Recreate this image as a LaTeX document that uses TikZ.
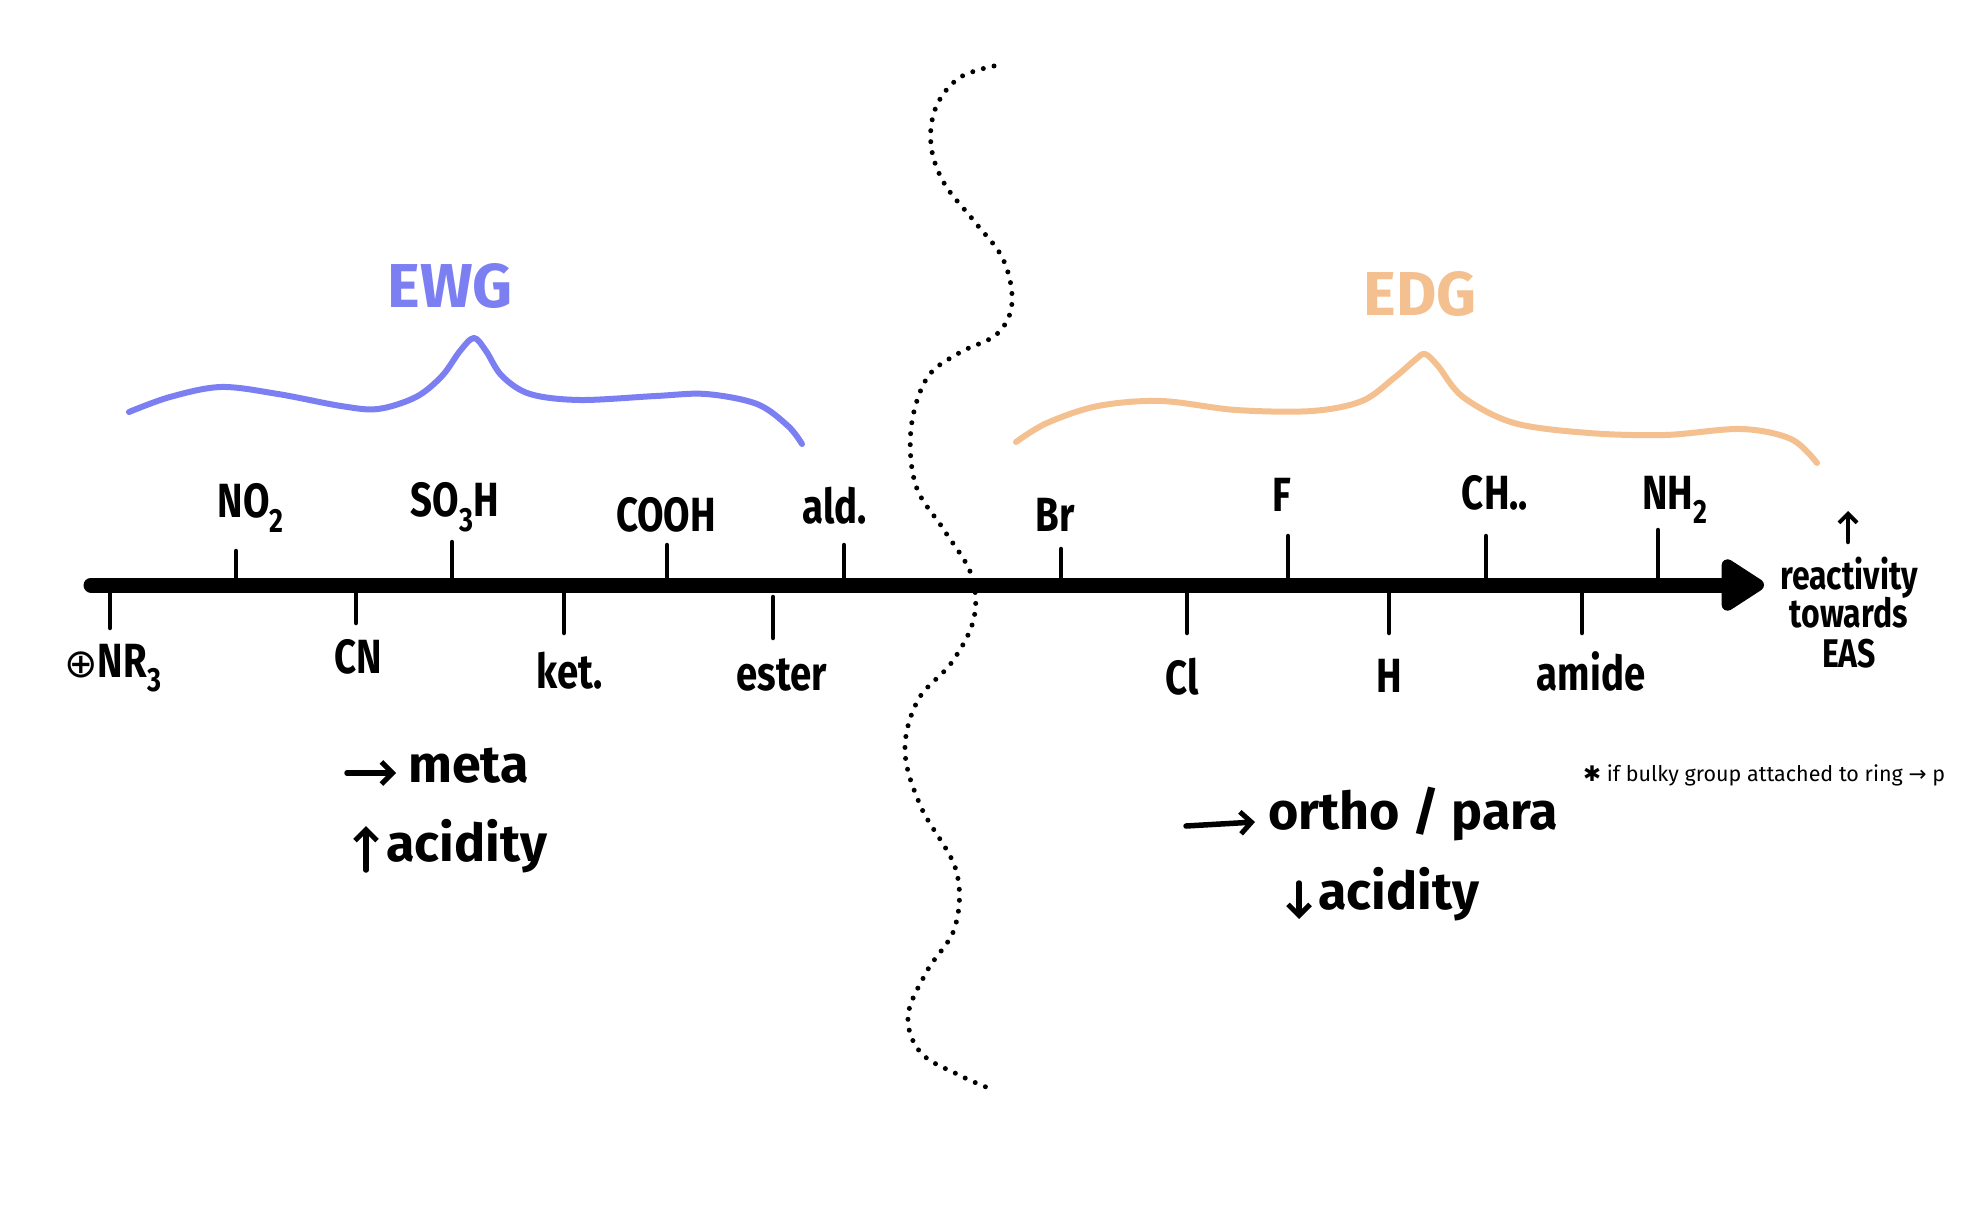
\documentclass[tikz,border=0pt]{standalone}
\usepackage{fontspec}
\setmainfont{Fira Sans}
\newfontfamily\hand{Fira Sans}[FakeStretch=0.8]
\newfontfamily\djv{DejaVu Sans}
\usetikzlibrary{arrows.meta}
\definecolor{ewgc}{HTML}{7C7FF2}
\definecolor{edgc}{HTML}{F4C08F}
\begin{document}
\begin{tikzpicture}[x=1pt,y=-1pt,
  tickmark/.style={line width=4.5pt,line cap=round},
  axlbl/.style={font=\hand\bfseries\fontsize{48}{52}\selectfont,inner sep=0pt},
  smalllbl/.style={font=\hand\bfseries\fontsize{40}{40}\selectfont,inner sep=0pt,align=center},
  biglbl/.style={font=\bfseries\fontsize{52}{56}\selectfont,inner sep=0pt},
  titlelbl/.style={font=\bfseries\fontsize{62}{66}\selectfont,inner sep=0pt},
  notelbl/.style={font=\fontsize{21.5}{24}\selectfont,inner sep=0pt},
  brace/.style={line width=6pt,line cap=round,line join=round},
  handarrow/.style={line width=5.5pt,line cap=round,-{Straight Barb[length=11pt,width=22pt,line width=5pt]}},
  dotline/.style={line width=5pt,line cap=round,dash pattern=on 0pt off 11pt}
]
\useasboundingbox (0,0) rectangle (1978,1214);

% wavy dotted divider
\draw[dotline] plot[smooth,tension=0.6] coordinates{
 (994,66) (959,78) (936,107) (931,145) (944,183) (974,221) (1003,259) (1012,303)
 (997,334) (959,353) (927,378) (911,429) (916,486) (944,530) (971,574) (974,618)
 (952,662) (918,700) (905,751) (921,807) (956,870) (955,927) (927,971) (908,1016)
 (921,1053) (959,1075) (986,1087)};

% main axis
\coordinate (axs) at (91,585);
\coordinate (axe) at (1764,585);
\draw[line width=15pt,line cap=round,-{Triangle[length=48pt,width=58pt,round]}] (axs) -- (axe);

% ticks above
\foreach \n/\x/\t in {no/236/551, so/452/542, cooh/667/545, ald/844/545, br/1061/549, f/1288/536, ch/1486/536, nh/1658/530}{
  \coordinate (\n a) at (\x,585);
  \coordinate (\n b) at (\x,\t);
  \draw[tickmark] (\n a) -- (\n b);
}
% ticks below
\foreach \n/\x/\s/\e in {nr/110/590/628, cn/356/590/623, ket/564/590/633, est/773/597/638, cl/1187/590/633, h/1389/590/633, am/1582/590/633}{
  \coordinate (\n a) at (\x,\s);
  \coordinate (\n b) at (\x,\e);
  \draw[tickmark] (\n a) -- (\n b);
}

% labels above
\node[axlbl] (lno) at (251,508) {NO\textsubscript{2}};
\node[axlbl] (lso) at (455,507) {SO\textsubscript{3}H};
\node[axlbl] (lcooh) at (666,515) {COOH};
\node[axlbl] (lald) at (835,506) {ald.};
\node[axlbl] (lbr) at (1055,515) {Br};
\node[axlbl] (lf) at (1282,495) {F};
\node[axlbl] (lch) at (1495,493) {CH..};
\node[axlbl] (lnh) at (1675,500) {NH\textsubscript{2}};
% labels below
\node[axlbl] (lnr) at (113,668) {{\djv\mdseries\fontsize{40}{40}\selectfont ⊕}NR\textsubscript{3}};
\node[axlbl] (lcn) at (358,657) {CN};
\node[axlbl] (lket) at (570,671) {ket.};
\node[axlbl] (lest) at (782,675) {ester};
\node[axlbl] (lcl) at (1182,677) {Cl};
\node[axlbl] (lh) at (1389,676) {H};
\node[axlbl] (lam) at (1591,671) {amide};

% reactivity label
\coordinate (upa) at (1848,542);
\coordinate (upb) at (1848,511);
\draw[line width=4.5pt,line cap=round,-{Straight Barb[length=9pt,width=18pt,line width=4pt]}] (upa) -- (upb);
\node[smalllbl] (lreact) at (1849,613) {reactivity\\[-2pt]towards\\EAS};

% EWG side
\node[titlelbl,text=ewgc] (lewg) at (450,286) {EWG};
\draw[brace,ewgc] plot[smooth,tension=0.55] coordinates{
 (129,412) (170,397) (221,387) (278,394) (341,406) (378,409) (416,397) (442,376)
 (460,351) (474,338) (486,351) (502,376) (530,394) (580,400) (656,396) (706,394)
 (757,404) (788,426) (802,444)};
\coordinate (ma) at (347,773);
\coordinate (mb) at (396,773);
\draw[handarrow] (ma) -- (mb);
\node[biglbl,anchor=west] (lmeta) at (408,766) {meta};
\coordinate (aca) at (366,870);
\coordinate (acb) at (366,826);
\draw[handarrow] (aca) -- (acb);
\node[biglbl,anchor=west] (lacid1) at (386,846) {acidity};

% EDG side
\node[titlelbl,text=edgc] (ledg) at (1420,294) {EDG};
\draw[brace,edgc] plot[smooth,tension=0.55] coordinates{
 (1016,442) (1047,423) (1098,406) (1161,401) (1236,410) (1312,411) (1362,401)
 (1394,378) (1415,360) (1425,354) (1438,366) (1463,397) (1514,423) (1589,433)
 (1665,435) (1741,429) (1791,439) (1817,463)};
\coordinate (oa) at (1186,826);
\coordinate (ob) at (1255,822);
\draw[handarrow] (oa) -- (ob);
\node[biglbl,anchor=west] (lortho) at (1268,814) {ortho / para};
\coordinate (da) at (1299,883);
\coordinate (db) at (1299,919);
\draw[handarrow] (da) -- (db);
\node[biglbl,anchor=west] (lacid2) at (1318,894) {acidity};

% note
\node[notelbl,anchor=west] (lnote) at (1583,775) {{\djv ✱} if bulky group attached to ring {\djv →} p};
\end{tikzpicture}
\end{document}
